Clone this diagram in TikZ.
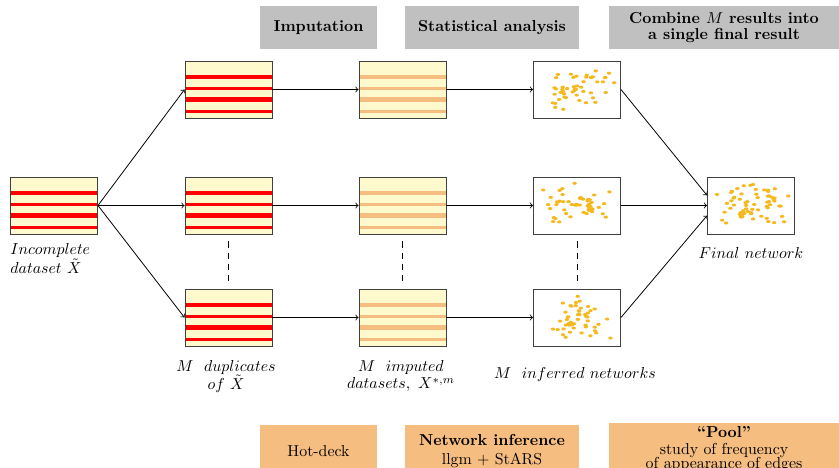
\documentclass[tikz,border=0pt]{standalone}
\usepackage{xcolor}
\usepackage{tikz}
\usetikzlibrary{shapes}
\usetikzlibrary{positioning}
\usetikzlibrary{calc}

\definecolor{paleyellow}{RGB}{255,250,205}
\definecolor{pastelorange}{RGB}{245,189,128}
\definecolor{dotorange}{RGB}{245,185,30}
\definecolor{headgray}{RGB}{192,192,192}

\begin{document}
\begin{tikzpicture}[
	x=0.63pt, y=-0.63pt,
	line width=0.5pt
]
\tikzset{
    databox/.style = {rectangle, draw=black!75, line width=0.6pt, fill=paleyellow, inner sep=0pt,
        minimum width=54.8pt, minimum height=35.9pt,
        path picture={\foreach \t/\h in {15.8/4.4,27.5/3,38.3/5,50.3/3.2}
            \fill[#1] ([shift={(0,\t-\h/2)}]path picture bounding box.north west) rectangle ++(100,\h);}},
    netbox/.style = {rectangle, draw=black!75, line width=0.6pt, fill=white, inner sep=0pt,
        minimum width=54.8pt, minimum height=35.9pt,
        path picture={\foreach \i in {1,...,#1} {
            \pgfmathsetmacro\dx{40*(rnd+rnd-1)}
            \pgfmathsetmacro\dy{25*(rnd+rnd-1)}
            \fill[dotorange] ([shift={(\dx,\dy)}]path picture bounding box.center) ellipse (1.4pt and 0.95pt);}}},
    header/.style = {rectangle, fill=headgray, inner sep=0pt, minimum height=27.1pt, align=center, font=\bfseries},
    method/.style = {rectangle, fill=pastelorange, inner sep=0pt, minimum height=32.8pt, align=center},
    lbl/.style = {align=center, inner sep=0pt},
    sep/.style = {dash pattern=on 4pt off 3pt}
}
\useasboundingbox (0,0) rectangle (839,468);
\pgfmathsetseed{23}

% headers
\node[header,minimum width=73.7pt] (himp) at (318.5,27.5) {Imputation};
\node[header,minimum width=109.6pt] (hstat) at (492,27.5) {Statistical analysis};
\node[header,minimum width=144.9pt] (hcomb) at (724,27.5) {Combine $M$ results into\\[-1.5pt]a single final result};

% datasets
\node[databox=red] (d0) at (54,205.5) {};
\node[databox=red] (a1) at (228.5,89.5) {};
\node[databox=red] (a2) at (228.5,205.5) {};
\node[databox=red] (a3) at (228.5,317.5) {};
\node[databox=pastelorange] (i1) at (402.5,89.5) {};
\node[databox=pastelorange] (i2) at (402.5,205.5) {};
\node[databox=pastelorange] (i3) at (402.5,317.5) {};

% networks
\node[netbox=50] (n1) at (577,89.5) {};
\node[netbox=50] (n2) at (577,205.5) {};
\node[netbox=50] (n3) at (577,317.5) {};
\node[netbox=65] (fin) at (751,205.5) {};

% arrows
\foreach \r in {1,2,3} {
    \draw[->] (d0.east) -- (a\r.west);
    \draw[->] (a\r) -- (i\r);
    \draw[->] (i\r) -- (n\r);
}
\draw[->] (n1.east) -- (fin.167);
\draw[->] (n2.east) -- (fin.west);
\draw[->] (n3.east) -- (fin.193);
\draw[sep] ([shift={(0,7)}]a2.south) -- ([shift={(0,-7)}]a3.north);
\draw[sep] ([shift={(0,7)}]i2.south) -- ([shift={(0,-7)}]i3.north);
\draw[sep] ([shift={(0,7)}]n2.south) -- ([shift={(0,-7)}]n3.north);

% labels
\node[lbl,anchor=north west,align=left] (dlab) at (10,243) {$Incomplete$\\[0pt]$dataset\ \tilde{X}$};
\node[lbl,anchor=north] (alab) at (226,360) {$M\ \ duplicates$\\[-0.5pt]$of\ \tilde{X}$};
\node[lbl,anchor=north] (ilab) at (401,360) {$M\ \ imputed$\\[-1pt]$datasets,\ X^{*,m}$};
\node[lbl] (nlab) at (575,375) {$M\ \ inferred\ networks$};
\node[lbl] (flab) at (751,253) {$Final\ network$};

% methods
\node[method,minimum width=73.7pt] (mhot) at (318.5,451) {Hot-deck};
\node[method,minimum width=109.6pt] (mnet) at (492,451) {\textbf{Network inference}\\llgm + StARS};
\node[method,minimum width=144.9pt] (mpool) at (724,449) {\textbf{``Pool''}\\[-1.5pt]study of frequency\\[-3.2pt]of appearance of edges};
\end{tikzpicture}
\end{document}
